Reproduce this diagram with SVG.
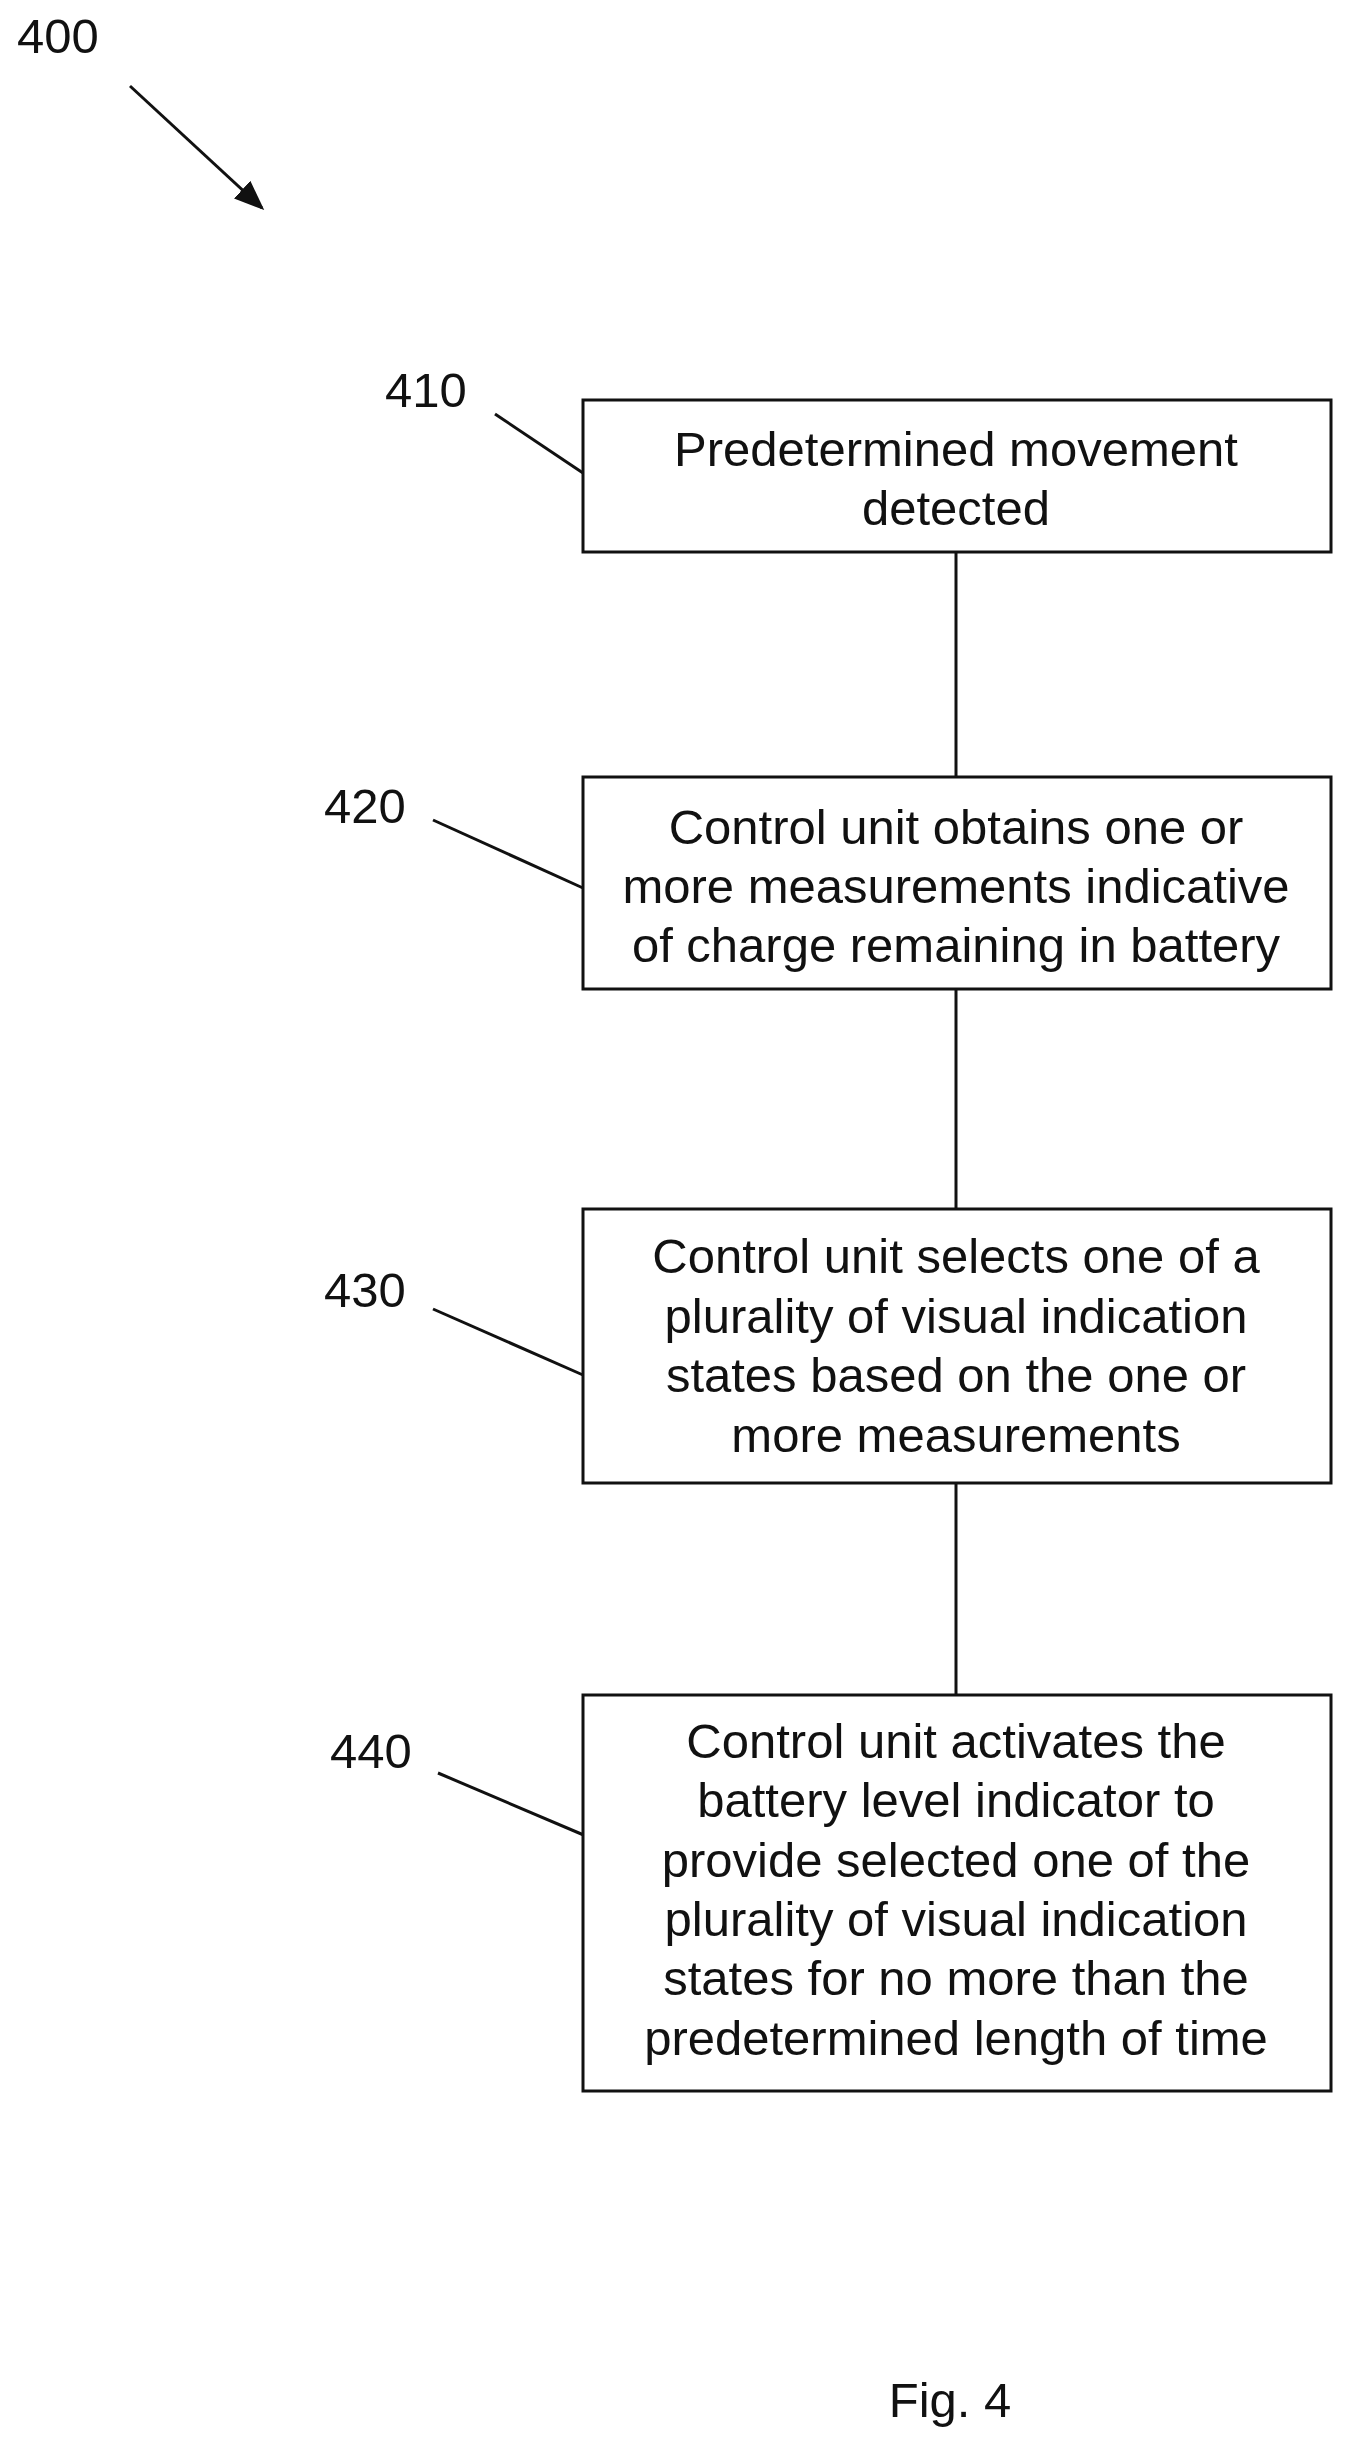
<svg xmlns="http://www.w3.org/2000/svg" width="1350" height="2444" viewBox="0 0 1350 2444">
<style>
text{font-family:"Liberation Sans",Arial,sans-serif;font-size:49px;fill:#111}
.b{fill:#fff;stroke:#111;stroke-width:3}
.t{text-anchor:middle}
line{stroke:#111;stroke-width:3}
</style>
<defs><marker id="ah" markerWidth="10" markerHeight="10" refX="9" refY="5" orient="auto" markerUnits="strokeWidth"><path d="M0,1 L10,5 L0,9 z" fill="#111"/></marker></defs>
<rect width="1350" height="2444" fill="#fff"/>
<g id="connectors">
<line x1="956" y1="552" x2="956" y2="777"/>
<line x1="956" y1="989" x2="956" y2="1209"/>
<line x1="956" y1="1483" x2="956" y2="1695"/>
<line x1="130" y1="86" x2="262" y2="208" marker-end="url(#ah)"/>
<line x1="495" y1="414" x2="583" y2="473"/>
<line x1="433" y1="820" x2="583" y2="888"/>
<line x1="433" y1="1309" x2="583" y2="1375"/>
<line x1="438" y1="1773" x2="586" y2="1836"/>
</g>
<g id="label400"><text x="17" y="53">400</text></g>
<g id="n410"><rect class="b" x="583" y="400" width="748" height="152"/><text class="t" x="956" y="466">Predetermined movement</text><text class="t" x="956" y="525">detected</text><text x="385" y="407">410</text></g>
<g id="n420"><rect class="b" x="583" y="777" width="748" height="212"/><text class="t" x="956" y="844">Control unit obtains one or</text><text class="t" x="956" y="903">more measurements indicative</text><text class="t" x="956" y="962">of charge remaining in battery</text><text x="324" y="823">420</text></g>
<g id="n430"><rect class="b" x="583" y="1209" width="748" height="274"/><text class="t" x="956" y="1273">Control unit selects one of a</text><text class="t" x="956" y="1333">plurality of visual indication</text><text class="t" x="956" y="1392">states based on the one or</text><text class="t" x="956" y="1452">more measurements</text><text x="324" y="1307">430</text></g>
<g id="n440"><rect class="b" x="583" y="1695" width="748" height="396"/><text class="t" x="956" y="1758">Control unit activates the</text><text class="t" x="956" y="1817">battery level indicator to</text><text class="t" x="956" y="1877">provide selected one of the</text><text class="t" x="956" y="1936">plurality of visual indication</text><text class="t" x="956" y="1995">states for no more than the</text><text class="t" x="956" y="2055">predetermined length of time</text><text x="330" y="1768">440</text></g>
<g id="fig"><text class="t" x="950" y="2417">Fig. 4</text></g>
</svg>
